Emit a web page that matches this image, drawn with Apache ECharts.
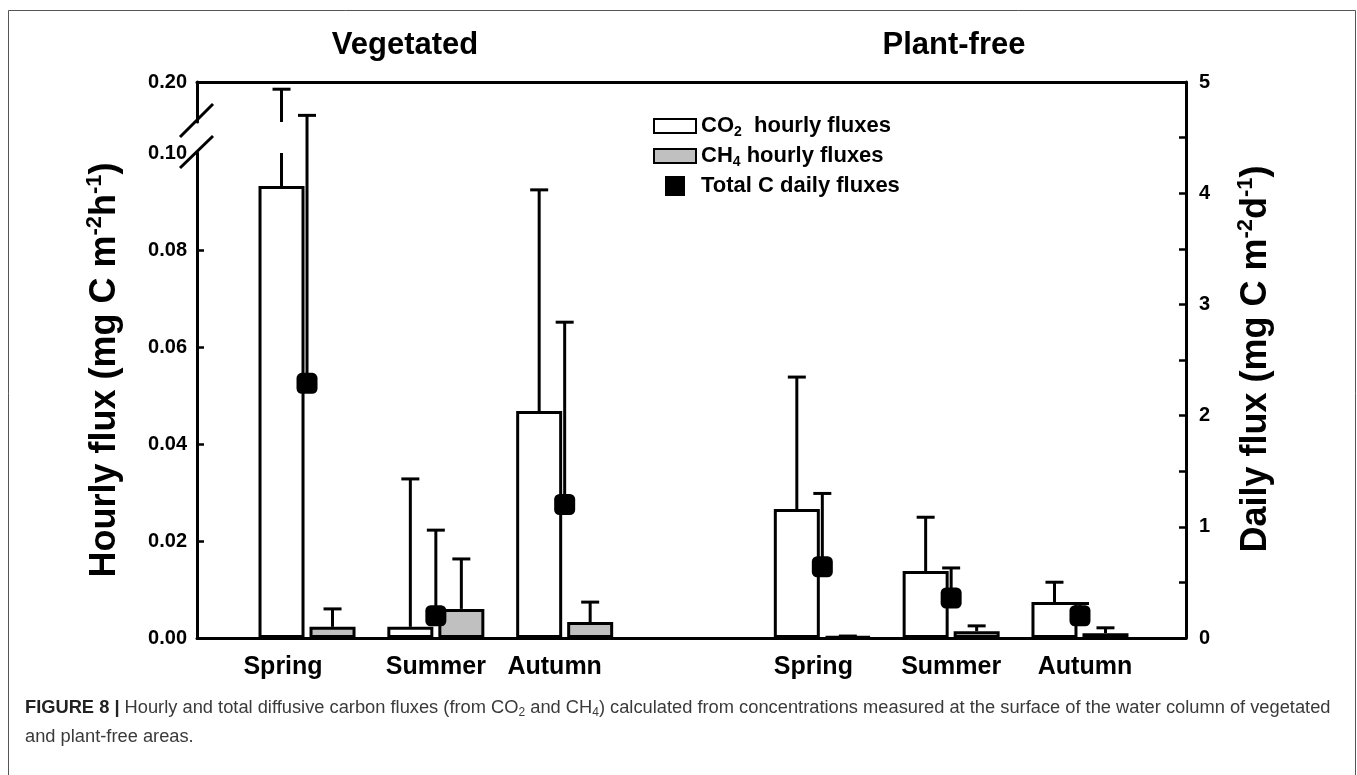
<!DOCTYPE html>
<html>
<head>
<meta charset="utf-8">
<script src="https://cdn.jsdelivr.net/npm/echarts@6/dist/echarts.min.js"></script>
<style>html,body{margin:0;padding:0;background:#fff}#c{width:1357px;height:775px}</style>
</head>
<body>
<div id="c"></div>
<script>
// ---------------- data ----------------
const seasons = ['Spring', 'Summer', 'Autumn'];
const sites = ['Vegetated', 'Plant-free'];
// hourly fluxes (mg C m-2 h-1): Vegetated Spring/Summer/Autumn, then Plant-free Spring/Summer/Autumn
const co2Mean  = [0.0932, 0.0023, 0.0468, 0.0266, 0.0138, 0.0074];
const co2Upper = [0.191,  0.0328, 0.0924, 0.0538, 0.0249, 0.0115];
const ch4Mean  = [0.0023, 0.0060, 0.0033, 0.0003, 0.0014, 0.0010];
const ch4Upper = [0.0060, 0.0163, 0.0074, 0.0004, 0.0025, 0.0021];
// total C daily fluxes (mg C m-2 d-1)
const totalMean  = [2.29, 0.20, 1.20, 0.64, 0.36, 0.20];
const totalUpper = [4.70, 0.97, 2.84, 1.30, 0.63, 0.31];
// tick labels
const leftTicksLower = [0, 0.02, 0.04, 0.06, 0.08, 0.10];
const leftTicksUpper = [0.20];
const rightTicks = [0, 1, 2, 3, 4, 5];

// ---------------- layout ----------------
const L = 197, R = 1186, T = 82, B = 638;
const LOWER_TOP = 153, UPPER_BOTTOM = 122;
const LOWER_MAX = 0.10, UPPER_MIN = 0.15, UPPER_MAX = 0.20;
const XMIN = 0.146, XMAX = 7.823;
const BAR_W = 46, BAR_GAP = 5, OFF = (BAR_W + BAR_GAP) / 2;
const LABEL_SHIFT = [-24, 0, -10, -9, 0, 5];   // hand-placed category labels (px)
const FONT = '"Liberation Sans", Arial, sans-serif';

const xs = co2Mean.map((_, i) => (i < 3 ? i + 1 : i + 2));
const xLabels = sites.flatMap(() => seasons);

function errRender(dx, lo, hi) {
  return function (params, api) {
    const x = api.value(0), m = api.value(1), u = api.value(2);
    const a = Math.max(m, lo), b = Math.min(u, hi);
    if (!(b > a)) return { type: 'group', children: [] };
    const p0 = api.coord([x, a]), p1 = api.coord([x, b]);
    const cx = p0[0] + dx;
    const st = { stroke: '#000', lineWidth: 3 };
    const ch = [{ type: 'line', shape: { x1: cx, y1: p0[1], x2: cx, y2: p1[1] }, style: st }];
    if (u <= hi) ch.push({ type: 'line', shape: { x1: cx - 9, y1: p1[1], x2: cx + 9, y2: p1[1] }, style: st });
    return { type: 'group', children: ch };
  };
}

const chart = echarts.init(document.getElementById('c'));
const axisLine = { show: true, lineStyle: { color: '#000', width: 3 } };
const tickLbl = { color: '#000', fontFamily: FONT, fontWeight: 'bold', fontSize: 20 };

const catRich = {};
LABEL_SHIFT.forEach((d, i) => {
  catRich['c' + i] = { color: '#000', fontFamily: FONT, fontWeight: 'bold', fontSize: 25,
    padding: d < 0 ? [0, -2 * d, 0, 0] : [0, 0, 0, 2 * d] };
});

const grids = [
  { left: L, top: T, width: R - L, height: B - T },
  { left: L, top: LOWER_TOP, width: R - L, height: B - LOWER_TOP },
  { left: L, top: T, width: R - L, height: UPPER_BOTTOM - T }
];

const option = {
  backgroundColor: '#fff',
  animation: false,
  grid: grids,
  xAxis: [
    { gridIndex: 0, type: 'value', min: XMIN, max: XMAX, position: 'bottom',
      axisLine: axisLine, axisTick: { show: false }, splitLine: { show: false },
      axisLabel: { customValues: xs,
        formatter: v => { const i = xs.indexOf(v); return i < 0 ? '' : '{c' + i + '|' + xLabels[i] + '}'; },
        rich: catRich, color: '#000', fontFamily: FONT, fontWeight: 'bold', fontSize: 25, margin: 17 } },
    { gridIndex: 0, type: 'value', min: XMIN, max: XMAX, position: 'top',
      axisLine: axisLine, axisTick: { show: false }, splitLine: { show: false }, axisLabel: { show: false } },
    { gridIndex: 1, type: 'value', min: XMIN, max: XMAX, show: false },
    { gridIndex: 2, type: 'value', min: XMIN, max: XMAX, show: false }
  ],
  yAxis: [
    { gridIndex: 0, type: 'value', position: 'right', min: 0, max: 5, interval: 0.5,
      axisLine: axisLine, splitLine: { show: false },
      axisTick: { inside: true, length: 7, lineStyle: { width: 2.5, color: '#000' } },
      axisLabel: Object.assign({ margin: 13,
        formatter: v => (rightTicks.indexOf(v) >= 0 ? String(v) : '') }, tickLbl) },
    { gridIndex: 1, type: 'value', position: 'left', min: 0, max: LOWER_MAX, interval: 0.02,
      axisLine: axisLine, splitLine: { show: false },
      axisTick: { inside: true, length: 7, customValues: leftTicksLower.slice(1, -1), lineStyle: { width: 2.5, color: '#000' } },
      axisLabel: Object.assign({ margin: 10, customValues: leftTicksLower, showMaxLabel: true,
        formatter: v => v.toFixed(2) }, tickLbl) },
    { gridIndex: 2, type: 'value', position: 'left', min: UPPER_MIN, max: UPPER_MAX,
      axisLine: axisLine, splitLine: { show: false }, axisTick: { show: false },
      axisLabel: Object.assign({ margin: 10, customValues: leftTicksUpper, showMaxLabel: true,
        formatter: v => v.toFixed(2) }, tickLbl) }
  ],
  legend: {
    orient: 'vertical', left: 648, top: 110, itemWidth: 42, itemHeight: 20, itemGap: 6,
    selectedMode: false,
    data: [
      { name: 'CO2', icon: 'path://M0,0H42V14H0Z' },
      { name: 'CH4', icon: 'path://M0,0H42V14H0Z' },
      { name: 'Total', icon: 'path://M0,0H10V10H0Z' }
    ],
    formatter: n => n === 'CO2' ? '{t|CO}{s|2}{t|  hourly fluxes}'
                 : n === 'CH4' ? '{t|CH}{s|4}{t| hourly fluxes}'
                 : '{t|Total C daily fluxes}',
    textStyle: {
      color: '#000', fontFamily: FONT, fontWeight: 'bold', fontSize: 22,
      rich: {
        t: { color: '#000', fontFamily: FONT, fontWeight: 'bold', fontSize: 22, lineHeight: 26, verticalAlign: 'middle' },
        s: { color: '#000', fontFamily: FONT, fontWeight: 'bold', fontSize: 14, lineHeight: 13, verticalAlign: 'bottom' }
      }
    }
  },
  series: [
    { name: 'CO2', type: 'bar', xAxisIndex: 2, yAxisIndex: 1, barWidth: BAR_W, barGap: (BAR_GAP / BAR_W * 100) + '%',
      data: xs.map((x, i) => [x, co2Mean[i]]), z: 2,
      itemStyle: { color: '#fff', borderColor: '#000', borderWidth: 3 } },
    { name: 'CH4', type: 'bar', xAxisIndex: 2, yAxisIndex: 1, barWidth: BAR_W, barGap: (BAR_GAP / BAR_W * 100) + '%',
      data: xs.map((x, i) => [x, ch4Mean[i]]), z: 2,
      itemStyle: { color: '#c0c0c0', borderColor: '#000', borderWidth: 3 } },
    { type: 'custom', xAxisIndex: 2, yAxisIndex: 1, z: 3, encode: { x: 0, y: [1, 2] },
      renderItem: errRender(-OFF, -Infinity, LOWER_MAX),
      data: xs.map((x, i) => [x, co2Mean[i], co2Upper[i]]) },
    { type: 'custom', xAxisIndex: 2, yAxisIndex: 1, z: 3, encode: { x: 0, y: [1, 2] },
      renderItem: errRender(OFF, -Infinity, LOWER_MAX),
      data: xs.map((x, i) => [x, ch4Mean[i], ch4Upper[i]]) },
    { type: 'custom', xAxisIndex: 3, yAxisIndex: 2, z: 3, encode: { x: 0, y: [1, 2] },
      renderItem: errRender(-OFF, UPPER_MIN, UPPER_MAX),
      data: xs.map((x, i) => [x, co2Mean[i], co2Upper[i]]) },
    { type: 'custom', xAxisIndex: 0, yAxisIndex: 0, z: 4, encode: { x: 0, y: [1, 2] },
      renderItem: errRender(0, -Infinity, Infinity),
      data: xs.map((x, i) => [x, totalMean[i], totalUpper[i]]) },
    { name: 'Total', type: 'scatter', xAxisIndex: 0, yAxisIndex: 0, z: 5,
      symbol: 'roundRect', symbolSize: 21, itemStyle: { color: '#000', opacity: 1 },
      data: xs.map((x, i) => [x, totalMean[i]]) }
  ],
  graphic: [
    { type: 'rect', silent: true, shape: { x: 8.5, y: 10.5, width: 1347, height: 800 },
      style: { fill: 'none', stroke: '#555', lineWidth: 1 } },
    { type: 'line', shape: { x1: 180, y1: 137, x2: 213, y2: 104 }, style: { stroke: '#000', lineWidth: 3 } },
    { type: 'line', shape: { x1: 180, y1: 168, x2: 213, y2: 136 }, style: { stroke: '#000', lineWidth: 3 } },
    { type: 'text', x: 405, y: 45, style: { text: sites[0], font: 'bold 31px ' + FONT, fill: '#000',
      textAlign: 'center', textVerticalAlign: 'middle' } },
    { type: 'text', x: 954, y: 45, style: { text: sites[1], font: 'bold 31px ' + FONT, fill: '#000',
      textAlign: 'center', textVerticalAlign: 'middle' } },
    { type: 'text', x: 105, y: 370, rotation: Math.PI / 2,
      style: { text: '{t|Hourly flux (mg C m}{p|-2}{t|h}{p|-1}{t|)}', textAlign: 'center', textVerticalAlign: 'middle',
        rich: {
          t: { fill: '#000', font: 'bold 36px ' + FONT, lineHeight: 43, verticalAlign: 'middle' },
          p: { fill: '#000', font: 'bold 22px ' + FONT, lineHeight: 22, verticalAlign: 'top' }
        } } },
    { type: 'text', x: 1256, y: 359, rotation: Math.PI / 2,
      style: { text: '{t|Daily flux (mg C m}{p|-2}{t|d}{p|-1}{t|)}', textAlign: 'center', textVerticalAlign: 'middle',
        rich: {
          t: { fill: '#000', font: 'bold 36px ' + FONT, lineHeight: 43, verticalAlign: 'middle' },
          p: { fill: '#000', font: 'bold 22px ' + FONT, lineHeight: 22, verticalAlign: 'top' }
        } } },
    { type: 'text', x: 25, y: 708,
      style: { text: '{b|FIGURE 8 | }{n|Hourly and total diffusive carbon fluxes (from CO}{s|2}{n| and CH}{s|4}{n|) calculated from concentrations measured at the surface of the water column of vegetated}',
        textAlign: 'left', textVerticalAlign: 'middle',
        rich: {
          b: { fill: '#222', font: 'bold 18.3px ' + FONT, lineHeight: 22, verticalAlign: 'middle' },
          n: { fill: '#3a3a3a', font: '18.3px ' + FONT, lineHeight: 22, verticalAlign: 'middle' },
          s: { fill: '#3a3a3a', font: '12px ' + FONT, lineHeight: 12, verticalAlign: 'bottom' }
        } } },
    { type: 'text', x: 25, y: 737,
      style: { text: 'and plant-free areas.', font: '18.3px ' + FONT, fill: '#3a3a3a',
        textAlign: 'left', textVerticalAlign: 'middle' } }
  ]
};
chart.setOption(option);
</script>
</body>
</html>
